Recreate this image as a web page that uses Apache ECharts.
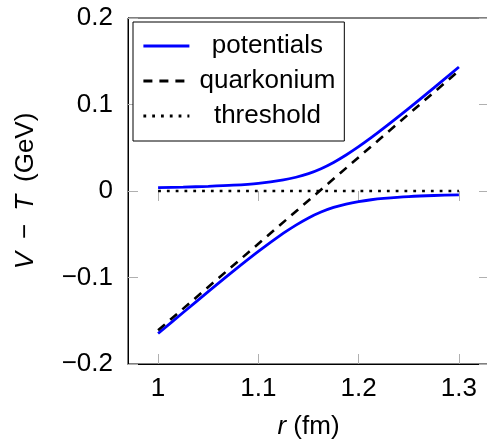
<!DOCTYPE html>
<html>
<head>
<meta charset="utf-8">
<script src="https://cdn.jsdelivr.net/npm/echarts@6/dist/echarts.min.js"></script>
<style>
  html, body { margin: 0; padding: 0; background: #fff; }
  #main { width: 487px; height: 441px; }
</style>
</head>
<body>
<div id="main"></div>
<script>
// values
var rValues = [1.0, 1.025, 1.05, 1.075, 1.1, 1.125, 1.1375, 1.15, 1.1625, 1.175, 1.1875, 1.2, 1.2125, 1.225, 1.25, 1.275, 1.3];
var upperPot = [0.0038, 0.0045, 0.0054, 0.0067, 0.0089, 0.0128, 0.0159, 0.0201, 0.0258, 0.0330, 0.0416, 0.0512, 0.0616, 0.0726, 0.0955, 0.1192, 0.1434];
var lowerPot = [-0.1648, -0.1405, -0.1164, -0.0927, -0.0699, -0.0488, -0.0394, -0.0311, -0.0243, -0.0190, -0.0151, -0.0122, -0.0101, -0.0086, -0.0065, -0.0052, -0.0044];
var lineR = [1.0, 1.3];
var quarkonium = [-0.161, 0.139];
var threshold = [0, 0];
var xTicks = [1, 1.1, 1.2, 1.3];
var yTicks = [-0.2, -0.1, 0, 0.1, 0.2];

var FONT = '"Liberation Sans", Arial, sans-serif';

function pairs(xs, ys) {
  return xs.map(function (x, i) { return [x, ys[i]]; });
}
function fmt(v) {
  var s = String(Math.round(v * 1000) / 1000);
  if (s === '-0') s = '0';
  return s.replace('-', '\u2212');
}

var chart = echarts.init(document.getElementById('main'), null, { renderer: 'canvas' });

var tickStyle = { show: true, inside: true, length: 10, lineStyle: { color: '#b0b0b0', width: 1 } };

var option = {
  animation: false,
  backgroundColor: '#fff',
  grid: {
    left: 128, top: 18, right: -2, bottom: 77,
    containLabel: false, outerBoundsMode: 'none',
    show: true, borderColor: '#000', borderWidth: 1, backgroundColor: 'transparent'
  },
  legend: {
    data: ['potentials', 'quarkonium', 'threshold'],
    orient: 'vertical',
    left: 133, top: 22,
    padding: [11, 9, 12, 9],
    itemWidth: 46, itemHeight: 26, itemGap: 9, itemTextGap: 5,
    itemStyle: { opacity: 0 },
    lineStyle: { width: 2.8 },
    backgroundColor: '#fff', borderColor: '#000', borderWidth: 1,
    formatter: function (name) { return '{c|' + name + '}'; },
    textStyle: {
      fontFamily: FONT, fontSize: 26, color: '#000',
      rich: { c: { width: 146, align: 'center', fontFamily: FONT, fontSize: 26, color: '#000' } }
    }
  },
  xAxis: [
    {
      type: 'value', min: 0.97, max: 1.33, position: 'bottom',
      axisLine: { show: true, onZero: false, lineStyle: { color: '#000', width: 1 } },
      axisTick: Object.assign({ customValues: xTicks }, tickStyle),
      axisLabel: { customValues: xTicks, formatter: fmt, margin: 12, fontFamily: FONT, fontSize: 26, color: '#000' },
      splitLine: { show: false },
      name: '{i|r} (fm)', nameLocation: 'middle', nameGap: 50,
      nameTextStyle: {
        fontFamily: FONT, fontSize: 26, color: '#000',
        rich: { i: { fontStyle: 'italic', fontFamily: FONT, fontSize: 26, color: '#000' } }
      }
    },
    {
      type: 'value', min: 0.97, max: 1.33, position: 'top',
      axisLine: { show: false },
      axisTick: Object.assign({ customValues: xTicks }, tickStyle),
      axisLabel: { show: false },
      splitLine: { show: false }
    }
  ],
  yAxis: [
    {
      type: 'value', min: -0.2, max: 0.2, interval: 0.1, position: 'left',
      axisLine: { show: true, onZero: false, lineStyle: { color: '#000', width: 1 } },
      axisTick: Object.assign({ customValues: yTicks }, tickStyle),
      axisLabel: { customValues: yTicks, formatter: fmt, margin: 15, fontFamily: FONT, fontSize: 26, color: '#000' },
      splitLine: { show: false },
      name: '{i|V}\u2002\u2212\u2002{i|T}\u2002(GeV)', nameLocation: 'middle', nameGap: 89, nameRotate: 90,
      nameTextStyle: {
        fontFamily: FONT, fontSize: 26, color: '#000',
        rich: { i: { fontStyle: 'italic', fontFamily: FONT, fontSize: 26, color: '#000' } }
      }
    },
    {
      type: 'value', min: -0.2, max: 0.2, interval: 0.1, position: 'right',
      axisLine: { show: false },
      axisTick: Object.assign({ customValues: yTicks }, tickStyle),
      axisLabel: { show: false },
      splitLine: { show: false }
    }
  ],
  series: [
    {
      name: 'potentials', type: 'line', symbol: 'none', smooth: 0.3,
      data: pairs(rValues, upperPot),
      lineStyle: { color: '#0000ff', width: 2.8 }, itemStyle: { color: '#0000ff' }
    },
    {
      name: 'potentials', type: 'line', symbol: 'none', smooth: 0.3,
      data: pairs(rValues, lowerPot),
      lineStyle: { color: '#0000ff', width: 2.8 }, itemStyle: { color: '#0000ff' }
    },
    {
      name: 'quarkonium', type: 'line', symbol: 'none',
      data: pairs(lineR, quarkonium),
      lineStyle: { color: '#000', width: 2.6, type: [9, 7], cap: 'butt' }, itemStyle: { color: '#000' }
    },
    {
      name: 'threshold', type: 'line', symbol: 'none',
      data: pairs(lineR, threshold),
      lineStyle: { color: '#000', width: 2.6, type: [2.8, 6], cap: 'butt' }, itemStyle: { color: '#000' }
    }
  ]
};

chart.setOption(option);
</script>
</body>
</html>
